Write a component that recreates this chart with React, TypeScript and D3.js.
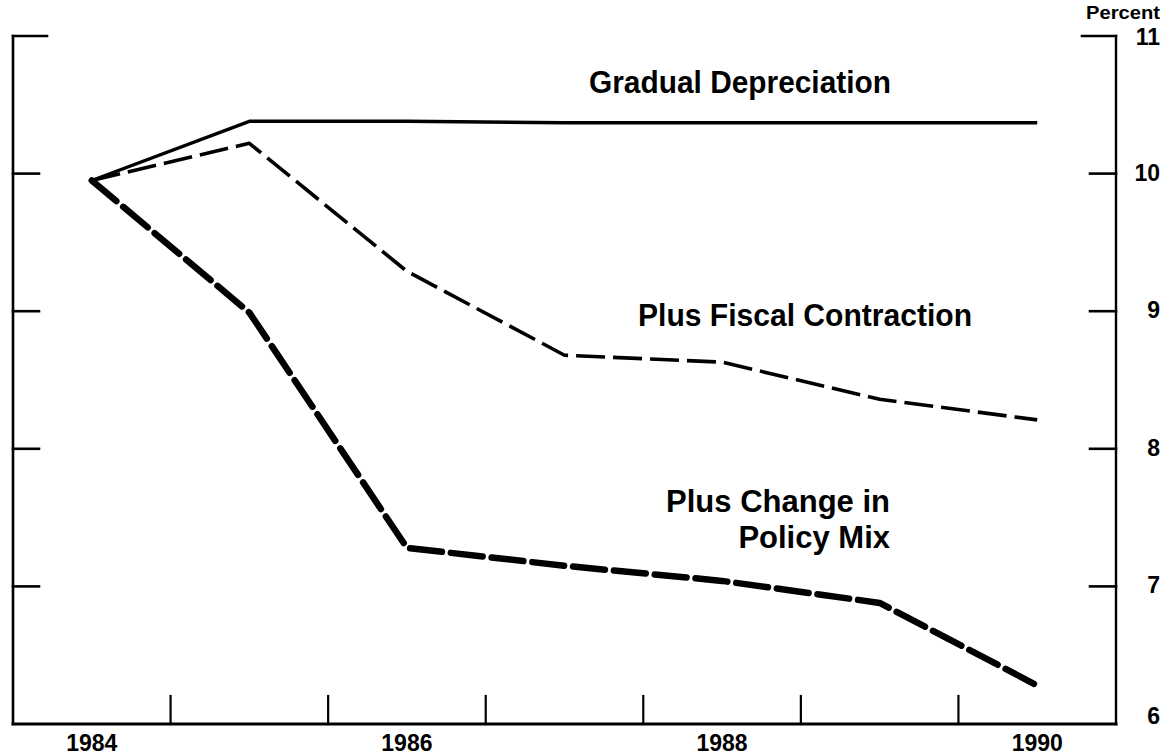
import React from "react";
import * as d3 from "d3";

const years = [1984, 1985, 1986, 1987, 1988, 1989, 1990];
const gradualDepreciation = [9.95, 10.38, 10.38, 10.37, 10.37, 10.37, 10.37];
const fiscalContraction = [9.95, 10.22, 9.29, 8.68, 8.63, 8.36, 8.21];
const policyMix = [9.95, 8.99, 7.28, 7.15, 7.04, 6.88, 6.28];
const yTicks = [6, 7, 8, 9, 10, 11];
const xLabels = [1984, 1986, 1988, 1990];
const xTicks = [1984.5, 1985.5, 1986.5, 1987.5, 1988.5, 1989.5];

const W = 1169;
const H = 756;
const FONT = "'Liberation Sans', Arial, Helvetica, sans-serif";

export default function App() {
  const x = d3.scaleLinear().domain([1983.5, 1990.5]).range([13, 1116]);
  const y = d3.scaleLinear().domain([6, 11]).range([724, 36]);
  const line = d3
    .line<number>()
    .x((_, i) => x(years[i]))
    .y((d) => y(d));

  const left = x(1983.5);
  const right = x(1990.5);
  const bottom = y(6);
  const top = y(11);

  return (
    <div style={{ position: "absolute", left: 0, top: 0 }}>
      <svg width={W} height={H} style={{ display: "block", background: "#fff" }}>
        <g stroke="#000" fill="none" strokeLinecap="square">
          <line x1={left} y1={top} x2={left} y2={bottom} strokeWidth={2.6} />
          <line x1={right} y1={top} x2={right} y2={bottom} strokeWidth={2.4} />
          <line x1={left} y1={bottom} x2={right} y2={bottom} strokeWidth={3} />
          {yTicks
            .filter((v) => v > 6)
            .map((v) => (
              <g key={v}>
                <line x1={left} x2={left + (v === 11 ? 34 : 26)} y1={y(v)} y2={y(v)} strokeWidth={2.6} />
                <line x1={right - (v === 11 ? 34 : 26)} x2={right} y1={y(v)} y2={y(v)} strokeWidth={2.6} />
              </g>
            ))}
          {xTicks.map((t) => (
            <line key={t} x1={x(t)} x2={x(t)} y1={bottom} y2={bottom - 28} strokeWidth={2.2} />
          ))}
        </g>

        <g fontFamily={FONT} fontWeight="bold" fontSize={23} fill="#000" textAnchor="end">
          {yTicks.map((v) => (
            <text key={v} x={1160} y={y(v) + (v === 11 ? 9 : v === 6 ? 0 : 7)}>
              {v}
            </text>
          ))}
          <text x={1160} y={19} fontSize={18} textLength={74} lengthAdjust="spacingAndGlyphs">
            Percent
          </text>
        </g>

        <g fontFamily={FONT} fontWeight="bold" fontSize={23} fill="#000" textAnchor="middle">
          {xLabels.map((v) => (
            <text key={v} x={x(v)} y={751}>
              {v}
            </text>
          ))}
        </g>

        <path d={line(gradualDepreciation) || ""} fill="none" stroke="#000" strokeWidth={3.4} strokeLinejoin="round" />
        <path
          d={line(fiscalContraction) || ""}
          fill="none"
          stroke="#000"
          strokeWidth={3.6}
          strokeDasharray="29 8"
          strokeLinejoin="round"
        />
        <path
          d={line(policyMix) || ""}
          fill="none"
          stroke="#000"
          strokeWidth={6.5}
          strokeDasharray="32 9"
          strokeLinecap="round"
          strokeLinejoin="round"
        />

        <g fontFamily={FONT} fontWeight="bold" fontSize={31} fill="#000">
          <text x={589} y={93} textLength={302} lengthAdjust="spacingAndGlyphs">
            Gradual Depreciation
          </text>
          <text x={638} y={326} textLength={334} lengthAdjust="spacingAndGlyphs">
            Plus Fiscal Contraction
          </text>
          <text x={890} y={512} textAnchor="end">
            Plus Change in
          </text>
          <text x={890} y={548} textAnchor="end">
            Policy Mix
          </text>
        </g>
      </svg>
    </div>
  );
}
